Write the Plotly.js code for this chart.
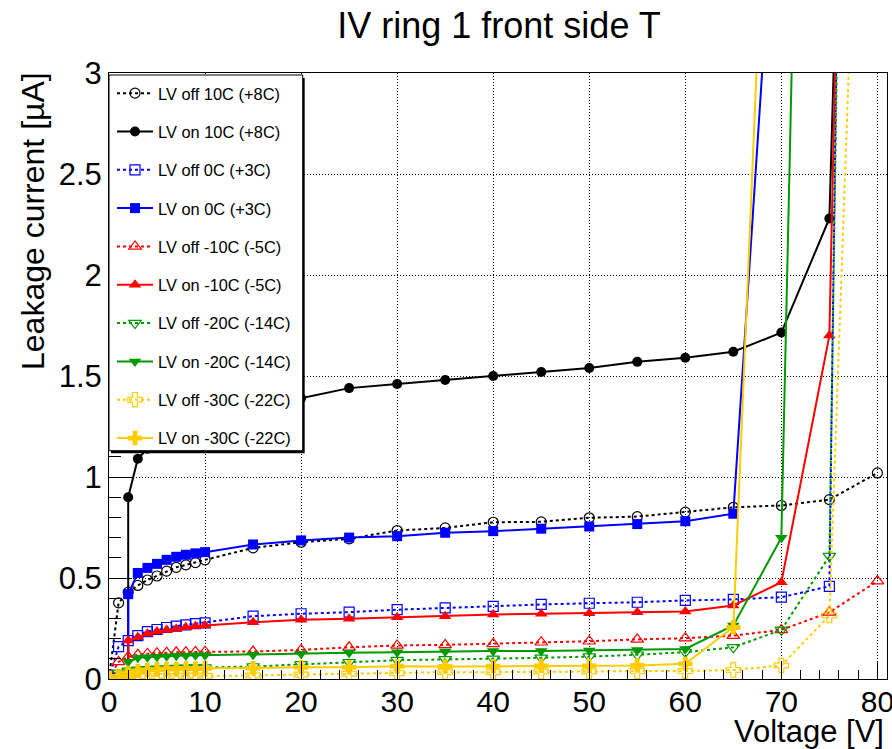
<!DOCTYPE html>
<html>
<head>
<meta charset="utf-8">
<script src="https://cdn.plot.ly/plotly-3.0.1.min.js"></script>
<style>
html,body{margin:0;padding:0;background:#fff;}
#chart{width:892px;height:749px;}
</style>
</head>
<body>
<div id="chart"></div>
<script>
// ---- data (voltage in V, leakage current in µA) ----
const vOff = [0,1,2,3,4,5,6,7,8,9,10,15,20,25,30,35,40,45,50,55,60,65,70,75,80];
const vOn80 = [0,1,2,2,3,4,5,6,7,8,9,10,15,20,25,30,35,40,45,50,55,60,65,70,75,80];
const vOn75 = [0,1,2,2,3,4,5,6,7,8,9,10,15,20,25,30,35,40,45,50,55,60,65,70,75];
const vOn70 = [0,1,2,2,3,4,5,6,7,8,9,10,15,20,25,30,35,40,45,50,55,60,65,70];

const off10 = [0.005,0.377,0.43,0.463,0.49,0.51,0.534,0.553,0.565,0.576,0.59,0.649,0.677,0.694,0.735,0.748,0.776,0.778,0.798,0.804,0.826,0.85,0.859,0.888,1.02];
const on10  = [0.005,0.008,0.02,0.90,1.09,1.14,1.18,1.21,1.23,1.25,1.27,1.29,1.34,1.39,1.44,1.46,1.48,1.50,1.52,1.54,1.57,1.59,1.62,1.715,2.28,10.5];
const off0  = [0.005,0.16,0.19,0.215,0.235,0.245,0.255,0.262,0.268,0.274,0.278,0.311,0.323,0.331,0.343,0.352,0.36,0.369,0.375,0.38,0.389,0.394,0.405,0.459,18.6];
const on0   = [0.005,0.008,0.02,0.42,0.525,0.55,0.57,0.59,0.605,0.615,0.622,0.628,0.666,0.686,0.70,0.707,0.724,0.732,0.744,0.755,0.767,0.781,0.818,4.46];
const offM10= [0.005,0.085,0.11,0.12,0.125,0.128,0.13,0.132,0.133,0.134,0.135,0.136,0.144,0.157,0.166,0.169,0.174,0.182,0.187,0.196,0.202,0.215,0.243,0.33,0.485];
const onM10 = [0.005,0.008,0.02,0.19,0.207,0.224,0.235,0.243,0.248,0.256,0.261,0.265,0.281,0.293,0.298,0.306,0.311,0.319,0.323,0.326,0.331,0.334,0.364,0.479,1.70,12.9];
const offM20= [0.005,0.03,0.04,0.045,0.048,0.05,0.052,0.054,0.055,0.056,0.057,0.062,0.072,0.083,0.093,0.097,0.1,0.105,0.111,0.12,0.133,0.157,0.243,0.608,16.3];
const onM20 = [0.005,0.008,0.02,0.085,0.105,0.108,0.11,0.113,0.115,0.116,0.117,0.118,0.12,0.125,0.13,0.133,0.136,0.138,0.138,0.141,0.144,0.149,0.265,0.699,11.45];
const offM30= [0.003,0.01,0.012,0.013,0.014,0.014,0.015,0.015,0.016,0.016,0.016,0.017,0.022,0.026,0.029,0.034,0.034,0.037,0.037,0.039,0.039,0.045,0.067,0.314,7.0];
const onM30 = [0.003,0.006,0.01,0.03,0.04,0.045,0.048,0.05,0.05,0.052,0.052,0.053,0.054,0.058,0.058,0.063,0.062,0.063,0.065,0.065,0.067,0.075,0.256,5.96];

const names = ["LV off 10C (+8C)","LV on 10C (+8C)","LV off 0C (+3C)","LV on 0C (+3C)",
  "LV off -10C (-5C)","LV on -10C (-5C)","LV off -20C (-14C)","LV on -20C (-14C)",
  "LV off -30C (-22C)","LV on -30C (-22C)"];
const xs = [vOff,vOn80,vOff,vOn70,vOff,vOn80,vOff,vOn75,vOff,vOn70];
const ys = [off10,on10,off0,on0,offM10,onM10,offM20,onM20,offM30,onM30];
const colors = ["#000000","#000000","#0000ff","#0000ff","#ff0000","#ff0000","#009900","#009900","#ffcc00","#ffcc00"];
const symbols = ["circle-open","circle","square-open","square","triangle-up-open","triangle-up",
  "triangle-down-open","triangle-down","cross-open","cross"];
const sizes = [10,10,10,10,11,11,11,11,12,12];
const dashes = ["dot","solid","dot","solid","dot","solid","dot","solid","dot","solid"];

const traces = names.map((n,i)=>({
  type:"scatter", mode:"lines+markers", name:n, x:xs[i], y:ys[i],
  legendgroup:"g"+i,
  line:{color:colors[i], width:2, dash:dashes[i]},
  marker:{symbol:symbols[i], size:sizes[i], color:colors[i],
          line:{color:colors[i], width:symbols[i].endsWith("open")?1.2:0}},
  cliponaxis:true
}));

const FONT = "Liberation Sans, Arial, Helvetica, sans-serif";
const L=109, R=5, T=73, B=70, W=892, H=749;
const pw = W-L-R, ph = H-T-B;
const px2x = p => (p-L)/pw;
const py2y = p => (H-B-p)/ph;

const layout = {
  width:W, height:H,
  margin:{l:L,r:R,t:T,b:B,pad:0},
  paper_bgcolor:"#fff", plot_bgcolor:"#fff",
  font:{family:FONT, color:"#000"},
  showlegend:true,
  title:{text:"IV ring 1 front side T", font:{family:FONT,size:36,color:"#000"},
         x:px2x(499), xref:"paper", xanchor:"center", y:1-25/H, yref:"container", yanchor:"middle"},
  xaxis:{range:[0,81], tick0:0, dtick:10, ticks:"inside", ticklen:18, tickwidth:1, tickcolor:"#000",
         showline:true, linecolor:"#000", linewidth:1, mirror:true,
         showgrid:true, gridcolor:"#000", gridwidth:1, griddash:"1px,2px", zeroline:false,
         ticklabeloverflow:"allow", ticklabelstandoff:-4,
         tickfont:{family:FONT,size:30,color:"#000"},
         minor:{dtick:2, tick0:0, ticks:"inside", ticklen:9, tickcolor:"#000", tickwidth:1, showgrid:false}},
  yaxis:{range:[0,3], tick0:0, dtick:0.5, ticks:"inside", ticklen:23, tickwidth:1, tickcolor:"#000",
         showline:true, linecolor:"#000", linewidth:1, mirror:true,
         showgrid:true, gridcolor:"#000", gridwidth:1, griddash:"1px,2px", zeroline:false,
         ticklabeloverflow:"allow",
         tickfont:{family:FONT,size:31,color:"#000"},
         minor:{dtick:0.1, tick0:0, ticks:"inside", ticklen:11.5, tickcolor:"#000", tickwidth:1, showgrid:false}},
  legend:{x:px2x(112), y:py2y(76), xanchor:"left", yanchor:"top", bgcolor:"rgba(0,0,0,0)",
          borderwidth:0, font:{family:FONT,size:16.4,color:"#000"}, itemwidth:36, tracegroupgap:14},
  shapes:[
    {type:"rect", xref:"paper", yref:"paper", layer:"above",
     x0:px2x(111), x1:px2x(304.7), y0:py2y(453.3), y1:py2y(78), fillcolor:"#000", line:{width:0}},
    {type:"rect", xref:"paper", yref:"paper", layer:"above",
     x0:px2x(109), x1:px2x(302.7), y0:py2y(450.7), y1:py2y(75), fillcolor:"#fff", line:{color:"#000",width:1}}
  ],
  annotations:[
    {text:"Voltage [V]", xref:"paper", yref:"paper", x:px2x(886), y:py2y(731), xanchor:"right", yanchor:"middle",
     showarrow:false, font:{family:FONT,size:31,color:"#000"}},
    {text:"Leakage current [µA]", xref:"paper", yref:"paper", x:px2x(33), y:py2y(70), xanchor:"center", yanchor:"top",
     textangle:-90, showarrow:false, font:{family:FONT,size:32,color:"#000"}}
  ]
};

Plotly.newPlot("chart", traces, layout, {displayModeBar:false, staticPlot:true});
</script>
</body>
</html>
